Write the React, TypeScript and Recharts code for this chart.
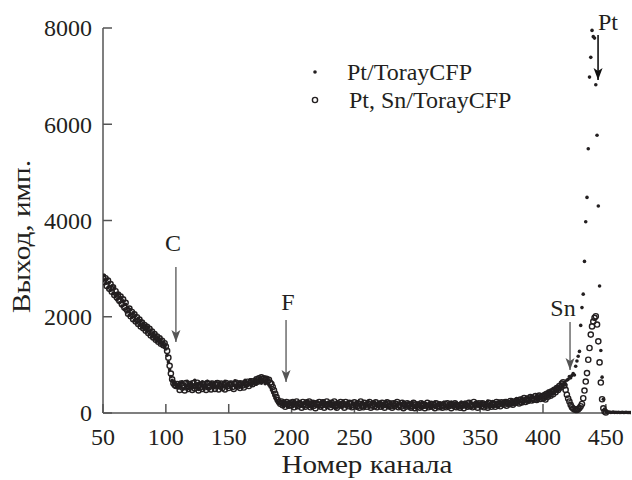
import { ScatterChart, Scatter, XAxis, YAxis, ReferenceLine, ReferenceDot } from 'recharts'

// Pt/TorayCFP, every channel 50..399
const ptBand = [
  2750, 2860, 2690, 2780, 2600, 2710, 2550, 2640, 2480, 2600,
  2440, 2350, 2480, 2290, 2400, 2220, 2330, 2150, 2260, 2100,
  2180, 2030, 2150, 1990, 2080, 1920, 2030, 1880, 1960, 1830,
  1920, 1790, 1870, 1740, 1820, 1700, 1780, 1640, 1720, 1590,
  1660, 1540, 1620, 1500, 1560, 1460, 1530, 1420, 1470, 1380,
  1330, 1200, 1060, 900, 760, 680, 640, 600, 590, 560,
  520, 620, 540, 650, 500, 600, 560, 660, 510, 590,
  640, 520, 580, 680, 530, 600, 490, 620, 560, 650,
  510, 600, 570, 660, 500, 590, 640, 530, 610, 550,
  650, 520, 590, 630, 500, 600, 560, 660, 530, 610,
  570, 640, 510, 600, 580, 670, 530, 620, 560, 650,
  540, 610, 590, 680, 560, 640, 600, 690, 580, 650,
  620, 700, 600, 680, 640, 720, 620, 690, 650, 610,
  680, 620, 580, 540, 480, 420, 360, 300, 260, 230,
  210, 250, 180, 230, 150, 220, 190, 120, 240, 170,
  210, 130, 250, 180, 110, 220, 160, 240, 140, 200,
  120, 230, 170, 250, 150, 200, 110, 230, 180, 140,
  240, 160, 120, 210, 180, 250, 140, 190, 110, 220,
  170, 240, 130, 200, 160, 100, 230, 180, 140, 210,
  120, 250, 170, 200, 130, 220, 160, 110, 240, 180,
  140, 210, 100, 230, 170, 130, 220, 190, 110, 200,
  160, 240, 120, 180, 210, 100, 230, 150, 190, 130,
  220, 170, 110, 200, 150, 240, 130, 180, 100, 210,
  160, 120, 230, 170, 140, 200, 100, 190, 150, 220,
  120, 180, 140, 210, 100, 170, 230, 130, 160, 110,
  200, 140, 180, 100, 220, 150, 120, 190, 160, 130,
  210, 110, 170, 140, 230, 120, 180, 150, 200, 100,
  170, 220, 130, 160, 110, 200, 150, 230, 120, 180,
  140, 210, 100, 190, 160, 230, 130, 170, 220, 120,
  180, 150, 240, 110, 200, 170, 130, 220, 160, 190,
  120, 230, 170, 140, 210, 180, 250, 130, 200, 160,
  240, 150, 190, 220, 130, 250, 180, 210, 160, 240,
  190, 260, 170, 230, 200, 280, 180, 250, 220, 300,
  210, 270, 240, 310, 200, 290, 250, 330, 230, 300,
  270, 350, 240, 320, 290, 370, 260, 340, 310, 380,
]

// Pt, Sn/TorayCFP, every channel 50..399
const snBand = [
  2830, 2720, 2800, 2640, 2750, 2580, 2680, 2520, 2610, 2450,
  2530, 2400, 2460, 2330, 2420, 2260, 2360, 2190, 2290, 2140,
  2060, 2170, 2010, 2100, 1950, 2050, 1900, 1990, 1850, 1940,
  1800, 1880, 1760, 1830, 1710, 1790, 1660, 1750, 1610, 1690,
  1570, 1640, 1520, 1590, 1480, 1550, 1440, 1500, 1410, 1450,
  1380, 1290, 1150, 980, 820, 700, 620, 580, 560, 600,
  560, 480, 610, 530, 570, 470, 620, 540, 500, 600,
  550, 480, 620, 510, 570, 630, 470, 590, 540, 500,
  600, 550, 480, 620, 530, 570, 490, 610, 560, 500,
  580, 620, 490, 560, 610, 520, 580, 490, 620, 560,
  520, 590, 610, 540, 500, 600, 630, 550, 590, 520,
  610, 570, 530, 620, 590, 650, 560, 620, 660, 600,
  660, 630, 700, 650, 720, 680, 740, 700, 720, 690,
  710, 660, 690, 630, 600, 540, 470, 400, 330, 270,
  230, 190, 240, 160, 210, 130, 230, 180, 150, 210,
  160, 230, 120, 190, 240, 140, 200, 170, 110, 230,
  180, 130, 220, 160, 240, 120, 190, 210, 150, 100,
  200, 170, 230, 130, 160, 220, 110, 180, 240, 150,
  190, 120, 210, 170, 240, 140, 110, 200, 160, 230,
  150, 190, 110, 230, 170, 140, 210, 190, 120, 160,
  220, 170, 130, 200, 110, 240, 150, 120, 210, 170,
  130, 190, 230, 110, 160, 200, 140, 220, 120, 170,
  190, 130, 210, 160, 110, 180, 220, 140, 200, 150,
  110, 200, 140, 190, 230, 120, 170, 130, 210, 100,
  170, 130, 200, 150, 180, 110, 140, 210, 100, 180,
  130, 170, 110, 200, 140, 180, 100, 160, 210, 120,
  150, 190, 130, 170, 100, 200, 140, 120, 180, 160,
  110, 150, 190, 120, 200, 140, 170, 100, 180, 150,
  200, 120, 160, 140, 110, 180, 150, 100, 190, 160,
  130, 210, 140, 170, 120, 230, 150, 190, 110, 200,
  170, 140, 200, 120, 180, 150, 110, 210, 160, 130,
  200, 170, 130, 230, 160, 190, 140, 220, 200, 170,
  230, 150, 210, 180, 250, 200, 170, 240, 210, 260,
  240, 200, 280, 220, 260, 310, 230, 280, 250, 300,
  330, 260, 300, 280, 350, 270, 320, 360, 290, 340,
]

// every channel 400..470
const ptPeak = [
  330, 410, 290, 380, 440, 350, 460, 390, 500, 420,
  480, 550, 470, 540, 500, 600, 560, 640, 590, 680,
  700, 760, 730, 780, 820, 790, 970, 1080, 1180, 1280,
  1820, 2190, 2470, 3150, 3975, 4480, 5490, 6980, 7390, 7950,
  7820, 7790, 6820, 5770, 4300, 2640, 1300, 745, 285, 80,
  30, 20, 15, 20, 10, 15, 20, 10, 15, 10,
  15, 10, 10, 15, 10, 10, 15, 10, 10, 10, 10,
]

// every channel 400..450
const snPeak = [
  300, 370, 280, 400, 340, 430, 360, 450, 390, 480,
  430, 520, 480, 560, 530, 610, 640, 570, 480, 380,
  300, 240, 170, 120, 95, 75, 65, 63, 80, 104,
  140, 188, 307, 466, 654, 829, 1107, 1351, 1629, 1800,
  1900, 1977, 2010, 1838, 1489, 1051, 633, 286, 98, 30,
  10,
]

const xTicks = [50, 100, 150, 200, 250, 300, 350, 400, 450]
const yTicks = [0, 2000, 4000, 6000, 8000]

// peak markers: label, arrow channel, arrow top/tip, label position
const markLabels = ['C', 'F', 'Sn', 'Pt']
const markX = [108, 195.6, 421.5, 443.8]
const markTop = [3034, 1932, 1891, 7855]
const markTip = [1475, 644, 894, 6919]
const markLabelX = [105.7, 197.2, 415.9, 451.7]
const markLabelY = [3532, 2306, 2182, 8125]

const ptData = [
  ...ptBand.map((y, i) => ({ x: 50 + i, y })),
  ...ptPeak.map((y, i) => ({ x: 400 + i, y })),
]
const snData = [
  ...snBand.map((y, i) => ({ x: 50 + i, y })),
  ...snPeak.map((y, i) => ({ x: 400 + i, y })),
]

const SERIF = 'Liberation Serif'
const FONT = '"Liberation Serif", serif'
const INK = '#231f20'
const AXIS = '#555'

const XTick = ({ x, y, payload }: any) => (
  <text
    x={x}
    y={y}
    dy="0.71em"
    textAnchor="middle"
    fill={INK}
    fontFamily={SERIF}
    fontSize={24}
    style={{ fontFamily: FONT, fontSize: 24, fontWeight: 400 }}
  >
    {payload.value}
  </text>
)

const YTick = ({ x, y, payload }: any) => (
  <text
    x={x}
    y={y}
    dy="0.35em"
    textAnchor="end"
    fill={INK}
    fontFamily={SERIF}
    fontSize={24}
    style={{ fontFamily: FONT, fontSize: 24, fontWeight: 400 }}
  >
    {payload.value}
  </text>
)

const dotShape = (p: any) => <circle cx={p.cx} cy={p.cy} r={1.8} fill={INK} />
const ringShape = (p: any) => (
  <circle cx={p.cx} cy={p.cy} r={2.6} fill="none" stroke={INK} strokeWidth={1.4} />
)

export default function App() {
  return (
    <div style={{ position: 'absolute', left: 0, top: 0, width: 632, height: 480, background: '#fff', fontFamily: FONT }}>
      <ScatterChart width={632} height={480} margin={{ top: 28, right: 1, bottom: 0, left: 0 }} style={{ fontFamily: FONT }}>
        <XAxis
          type="number"
          dataKey="x"
          domain={[50, 470]}
          ticks={xTicks}
          allowDataOverflow
          height={67}
          tickSize={-9}
          tickMargin={24}
          tick={(p: any) => <XTick {...p} />}
          axisLine={{ stroke: AXIS, strokeWidth: 1.5 }}
          tickLine={{ stroke: AXIS, strokeWidth: 1.5 }}
          label={({ viewBox }: any) => (
            <text
              x={367}
              y={viewBox.y + 60}
              textAnchor="middle"
              fill={INK}
              fontFamily={SERIF}
              fontSize={25}
              style={{ fontFamily: FONT, fontSize: 25, fontWeight: 400 }}
              textLength={171}
              lengthAdjust="spacingAndGlyphs"
            >
              Номер канала
            </text>
          )}
        />
        <YAxis
          type="number"
          dataKey="y"
          domain={[0, 8000]}
          ticks={yTicks}
          width={103}
          tickSize={-9}
          tickMargin={20}
          tick={(p: any) => <YTick {...p} />}
          axisLine={{ stroke: AXIS, strokeWidth: 1.5 }}
          tickLine={{ stroke: AXIS, strokeWidth: 1.5 }}
          label={({ viewBox }: any) => (
            <text
              transform={`translate(30 ${viewBox.y + viewBox.height / 2 + 16}) rotate(-90)`}
              textAnchor="middle"
              fill={INK}
              fontFamily={SERIF}
              fontSize={25}
              style={{ fontFamily: FONT, fontSize: 25, fontWeight: 400 }}
              textLength={153}
              lengthAdjust="spacingAndGlyphs"
            >
              Выход, имп.
            </text>
          )}
        />
        <Scatter name="Pt/TorayCFP" data={ptData} shape={dotShape} isAnimationActive={false} />
        <Scatter name="Pt, Sn/TorayCFP" data={snData} shape={ringShape} isAnimationActive={false} />

        {markLabels.map((label, i) => {
          const color = label === 'Pt' ? '#111' : AXIS
          return [
            <ReferenceLine
              key={`shaft-${label}`}
              segment={[
                { x: markX[i], y: markTop[i] },
                { x: markX[i], y: markTip[i] },
              ]}
              stroke={color}
              strokeWidth={label === 'Pt' ? 1.6 : 1.3}
              ifOverflow="visible"
            />,
            <ReferenceDot
              key={`head-${label}`}
              x={markX[i]}
              y={markTip[i]}
              ifOverflow="visible"
              shape={(p: any) => (
                <path
                  d={`M${p.cx},${p.cy} L${p.cx - 4.5},${p.cy - 12} L${p.cx},${p.cy - 9} L${p.cx + 4.5},${p.cy - 12} Z`}
                  fill={color}
                />
              )}
            />,
            <ReferenceDot
              key={`label-${label}`}
              x={markLabelX[i]}
              y={markLabelY[i]}
              ifOverflow="visible"
              shape={(p: any) => (
                <text
                  x={p.cx}
                  y={p.cy}
                  dy="0.35em"
                  textAnchor="middle"
                  fill={INK}
                  style={{ fontFamily: FONT, fontSize: 24 }}
                >
                  {label}
                </text>
              )}
            />,
          ]
        })}
      </ScatterChart>

      <div style={{ position: 'absolute', left: 300, top: 58, fontFamily: FONT, fontSize: 24, color: INK, lineHeight: '28px' }}>
        <div style={{ display: 'flex', alignItems: 'center' }}>
          <svg width={30} height={28}>
            <circle cx={15} cy={14} r={1.8} fill={INK} />
          </svg>
          <span style={{ marginLeft: 17 }}>Pt/TorayCFP</span>
        </div>
        <div style={{ display: 'flex', alignItems: 'center' }}>
          <svg width={30} height={28}>
            <circle cx={15} cy={14} r={2.6} fill="none" stroke={INK} strokeWidth={1.4} />
          </svg>
          <span style={{ marginLeft: 19 }}>Pt, Sn/TorayCFP</span>
        </div>
      </div>
    </div>
  )
}
